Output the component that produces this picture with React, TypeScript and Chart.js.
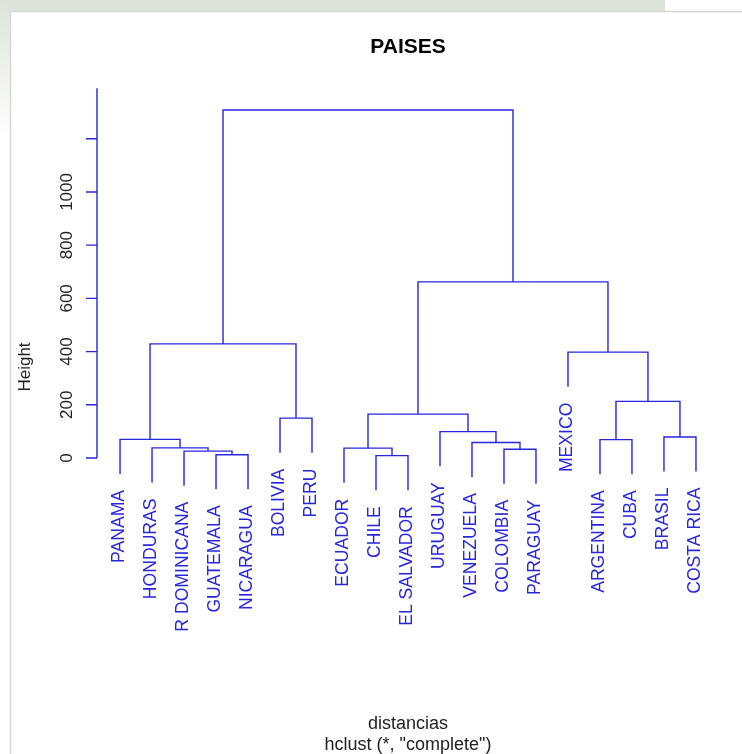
import React, { useEffect, useRef } from "react";
import { Chart, registerables } from "chart.js";

Chart.register(...registerables);

const leafLabels = [
  "PANAMA", "HONDURAS", "R DOMINICANA", "GUATEMALA", "NICARAGUA", "BOLIVIA", "PERU",
  "ECUADOR", "CHILE", "EL SALVADOR", "URUGUAY", "VENEZUELA", "COLOMBIA", "PARAGUAY",
  "MEXICO", "ARGENTINA", "CUBA", "BRASIL", "COSTA RICA",
];
// R-style merge matrix: negative = leaf (1-based), positive = earlier merge (1-based)
const mergeA = [-9, -4, -3, -13, -8, -2, -12, -16, -1, -18, -11, -6, 5, 8, -15, 9, 13, 16];
const mergeB = [-10, -5, 2, -14, 1, 3, 4, -17, 6, -19, 7, -7, 11, 10, 14, 12, 15, 17];
const mergeHeight = [9, 12, 26, 33, 37, 38, 58, 69, 70, 79, 99, 150, 165, 213, 398, 429, 662, 1308];
const yTicks = [0, 200, 400, 600, 800, 1000, 1200];
const yTickLabels = ["0", "200", "400", "600", "800", "1000", ""];
const axisTopValue = 1390;

const title = "PAISES";
const xLabel = "distancias";
const subLabel = 'hclust (*, "complete")';
const yLabel = "Height";

const BLUE = "#2626e0";
const FONT = '"Liberation Sans", Arial, sans-serif';

export default function App() {
  const ref = useRef<HTMLCanvasElement | null>(null);

  useEffect(() => {
    const canvas = ref.current;
    if (!canvas) return;

    const hs = mergeHeight;
    const hang = 0.1 * (Math.max(...hs) - Math.min(...hs));
    const xOf = (node: number): number =>
      node < 0 ? -node : (xOf(mergeA[node - 1]) + xOf(mergeB[node - 1])) / 2;
    const leafEnd: number[] = new Array(leafLabels.length).fill(0);

    const datasets = hs.map((h, k) => {
      const a = mergeA[k];
      const b = mergeB[k];
      const ya = a < 0 ? h - hang : hs[a - 1];
      const yb = b < 0 ? h - hang : hs[b - 1];
      if (a < 0) leafEnd[-a - 1] = ya;
      if (b < 0) leafEnd[-b - 1] = yb;
      return {
        data: [
          { x: xOf(a), y: ya },
          { x: xOf(a), y: h },
          { x: xOf(b), y: h },
          { x: xOf(b), y: yb },
        ],
        showLine: true,
        borderColor: BLUE,
        borderWidth: 1.4,
        pointRadius: 0,
        tension: 0,
        fill: false,
      };
    });

    const n = leafLabels.length;
    const ext = 0.04 * (n - 1);

    const decor = {
      id: "decor",
      beforeDraw(chart: any) {
        const c = chart.ctx;
        c.save();
        c.fillStyle = "#ffffff";
        c.fillRect(0, 0, chart.width, chart.height);
        c.fillStyle = "#dde3db";
        c.fillRect(0, 0, 665, 11);
        const g = c.createLinearGradient(0, 0, 0, 140);
        g.addColorStop(0, "#dde3db");
        g.addColorStop(1, "#ffffff");
        c.fillStyle = g;
        c.fillRect(0, 0, 10, 140);
        c.strokeStyle = "#d6d6d6";
        c.lineWidth = 1.5;
        c.beginPath();
        c.moveTo(10.5, 11.5);
        c.lineTo(chart.width, 11.5);
        c.moveTo(10.5, 11.5);
        c.lineTo(10.5, chart.height);
        c.stroke();
        c.restore();
      },
      afterDraw(chart: any) {
        const c = chart.ctx;
        const xs = chart.scales.x;
        const ys = chart.scales.y;
        const area = chart.chartArea;
        c.save();
        // axis
        const ax = area.left;
        c.strokeStyle = BLUE;
        c.lineWidth = 1.4;
        c.beginPath();
        c.moveTo(ax, ys.getPixelForValue(0));
        c.lineTo(ax, ys.getPixelForValue(axisTopValue));
        yTicks.forEach((t) => {
          const py = ys.getPixelForValue(t);
          c.moveTo(ax - 11, py);
          c.lineTo(ax, py);
        });
        c.stroke();
        c.fillStyle = "#222222";
        c.font = `17px ${FONT}`;
        c.textAlign = "center";
        c.textBaseline = "alphabetic";
        yTicks.forEach((t, i) => {
          const py = ys.getPixelForValue(t);
          c.save();
          c.translate(ax - 25, py);
          c.rotate(-Math.PI / 2);
          c.fillText(yTickLabels[i], 0, 0);
          c.restore();
        });
        // leaf labels
        c.fillStyle = BLUE;
        c.textAlign = "right";
        c.font = `17.6px ${FONT}`;
        leafLabels.forEach((lab, i) => {
          const px = xs.getPixelForValue(i + 1);
          const py = ys.getPixelForValue(leafEnd[i]);
          c.save();
          c.translate(px + 4, py + 16);
          c.rotate(-Math.PI / 2);
          c.fillText(lab, 0, 0);
          c.restore();
        });
        // titles
        const cx = (area.left + area.right) / 2;
        c.fillStyle = "#000000";
        c.textAlign = "center";
        c.font = `bold 21px ${FONT}`;
        c.fillText(title, cx, 53);
        c.fillStyle = "#222222";
        c.font = `18px ${FONT}`;
        c.fillText(xLabel, cx, 729);
        c.fillText(subLabel, cx, 750);
        c.font = `17px ${FONT}`;
        c.save();
        c.translate(30, 367);
        c.rotate(-Math.PI / 2);
        c.fillText(yLabel, 0, 0);
        c.restore();
        c.restore();
      },
    };

    const chart = new Chart(canvas, {
      type: "scatter",
      data: { datasets: datasets as any },
      options: {
        animation: false,
        responsive: false,
        devicePixelRatio: 1,
        layout: { padding: { left: 97, right: 23, top: 86, bottom: 248 } },
        plugins: { legend: { display: false }, tooltip: { enabled: false }, title: { display: false } },
        scales: {
          x: { type: "linear", display: false, min: 1 - ext, max: n + ext },
          y: { type: "linear", display: false, min: -180.4, max: 1398.2 },
        },
      },
      plugins: [decor],
    });
    return () => chart.destroy();
  }, []);

  return (
    <div style={{ position: "fixed", left: 0, top: 0, width: 742, height: 754 }}>
      <canvas ref={ref} width={742} height={754} />
    </div>
  );
}
